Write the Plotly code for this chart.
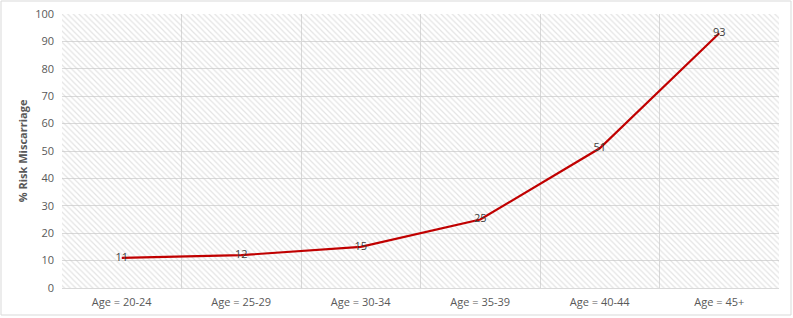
import plotly.graph_objects as go

categories = ["Age = 20-24", "Age = 25-29", "Age = 30-34", "Age = 35-39", "Age = 40-44", "Age = 45+"]
risk = [11, 12, 15, 25, 51, 93]
y_ticks = [0, 10, 20, 30, 40, 50, 60, 70, 80, 90, 100]

W, H = 793, 318
ml, mr, mt, mb = 62, 14, 14, 30
pw, ph = W - ml - mr, H - mt - mb

fig = go.Figure()

# hatched plot-area background (on hidden primary axes)
fig.add_trace(go.Scatter(
    x=[0, 1, 1, 0, 0], y=[0, 0, 1, 1, 0], xaxis="x", yaxis="y",
    mode="lines", line=dict(width=0), fill="toself", fillcolor="rgba(0,0,0,0)",
    fillpattern=dict(shape="\\", fgcolor="#c8c8c8", bgcolor="rgba(0,0,0,0)", size=4, solidity=0.3),
    hoverinfo="skip", showlegend=False,
))

fig.add_trace(go.Scatter(
    x=categories, y=risk, mode="lines+text", xaxis="x2", yaxis="y2",
    line=dict(color="#c00000", width=2.2),
    text=[str(v) for v in risk], textposition="middle center",
    textfont=dict(family="Open Sans, Calibri, sans-serif", size=11, color="#404040"),
    showlegend=False,
))

fig.update_layout(
    width=W, height=H, autosize=False,
    margin=dict(l=ml, r=mr, t=mt, b=mb, pad=0, autoexpand=False),
    paper_bgcolor="white", plot_bgcolor="white",
    font=dict(family="Open Sans, Calibri, sans-serif", color="#595959", size=11),
    xaxis=dict(range=[0, 1], visible=False, fixedrange=True, automargin=False),
    yaxis=dict(range=[0, 1], visible=False, fixedrange=True, automargin=False),
    xaxis2=dict(
        overlaying="x", automargin=False,
        type="category", tickson="boundaries", showgrid=True, gridcolor="#d9d9d9",
        gridwidth=1, ticks="", showline=True, linecolor="#d9d9d9", linewidth=1,
        tickfont=dict(size=11, color="#595959"), range=[-0.5, 5.5], zeroline=False,
        ticklabelstandoff=4,
    ),
    yaxis2=dict(
        overlaying="y", side="left", automargin=False,
        range=[0, 100], tickvals=y_ticks, showgrid=True, gridcolor="#d9d9d9",
        gridwidth=1, zeroline=False, showline=False, ticks="",
        tickfont=dict(size=11, color="#595959"), ticklabelstandoff=7,
        title=dict(text="<b>% Risk Miscarriage</b>", font=dict(size=11, color="#595959"), standoff=5),
    ),
    shapes=[dict(
        type="rect", xref="paper", yref="paper",
        x0=(1 - ml) / pw, x1=(W - 2 - ml) / pw,
        y0=-(H - 3 - mt - ph) / ph, y1=1 + (mt - 1) / ph,
        line=dict(color="#d9d9d9", width=1), fillcolor="rgba(0,0,0,0)", layer="below",
    )],
)

fig.write_html("out.html")
